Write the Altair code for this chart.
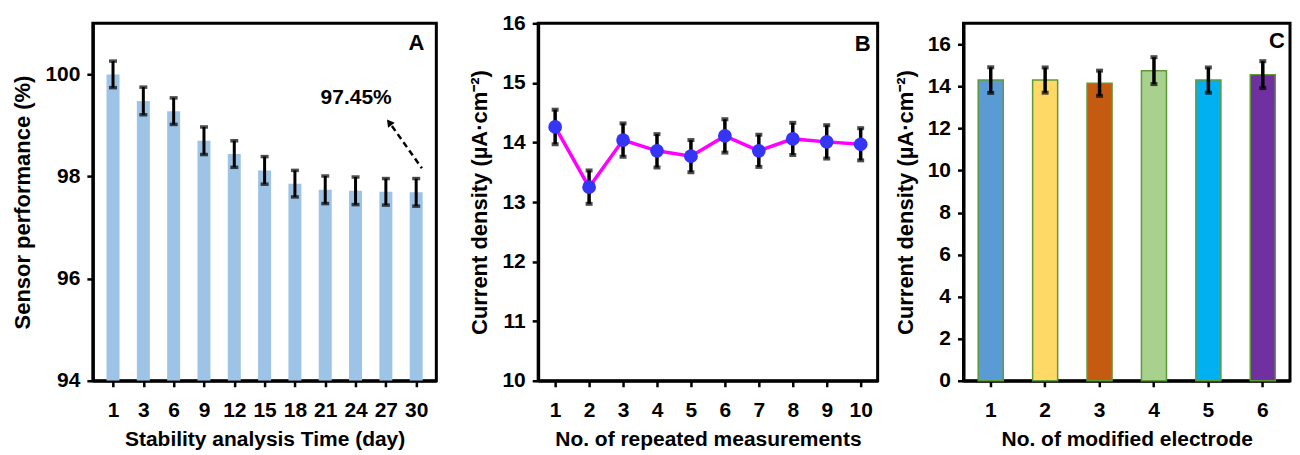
import altair as alt
import pandas as pd

# ---------- data ----------
days = [1, 3, 6, 9, 12, 15, 18, 21, 24, 27, 30]
perf = [100.0, 99.48, 99.28, 98.70, 98.44, 98.12, 97.86, 97.74, 97.72, 97.70, 97.69]
perf_err = [0.26, 0.27, 0.26, 0.27, 0.26, 0.27, 0.26, 0.27, 0.27, 0.26, 0.27]

reps = [1, 2, 3, 4, 5, 6, 7, 8, 9, 10]
rep_cd = [14.26, 13.25, 14.04, 13.86, 13.77, 14.11, 13.86, 14.06, 14.01, 13.97]
rep_err = [0.29, 0.28, 0.28, 0.28, 0.27, 0.28, 0.27, 0.27, 0.28, 0.27]

electrodes = ["1", "2", "3", "4", "5", "6"]
elec_cd = [14.30, 14.30, 14.15, 14.75, 14.30, 14.56]
elec_err = [0.61, 0.60, 0.60, 0.64, 0.60, 0.64]
elec_colors = ["#5B9BD5", "#FFD966", "#C55A11", "#A9D18E", "#00B0F0", "#7030A0"]

annot_text = "97.45%"
# annotation anchor points (data units of panel A: bar index, %)
arrow_x = [10.19, 9.20]
arrow_y = [98.16, 98.99]
head_x, head_y = 9.11, 99.06
text_x, text_y = 8.02, 99.53

FONT = "Liberation Sans"
LBL = 21

# ---------- panel A ----------
dfa = pd.DataFrame({"idx": list(range(len(days))), "day": days, "perf": perf, "err": perf_err})
dfa["lo"] = dfa["perf"] - dfa["err"]
dfa["hi"] = dfa["perf"] + dfa["err"]
label_expr = "[" + ",".join(f"'{d}'" for d in days) + "][datum.value]"

xa_scale = alt.Scale(domain=[-0.5, len(days) - 0.5], nice=False, zero=False)
xa_axis = alt.Axis(values=list(range(len(days))), labelExpr=label_expr, labelOverlap=False,
                   title="Stability analysis Time (day)")
ya_scale = alt.Scale(domain=[94, 101], nice=False, zero=False)
ya_axis = alt.Axis(values=[94, 96, 98, 100], format="d", labelOverlap=False, title="Sensor performance (%)")


def XA(f):
    return alt.X(f, scale=xa_scale, axis=xa_axis)


def YA(f):
    return alt.Y(f, scale=ya_scale, axis=ya_axis)


bars_a = alt.Chart(dfa).mark_bar(size=13, color="#9DC3E6", clip=True).encode(
    x=XA("idx:Q"), y=YA("perf:Q"), y2=alt.datum(94))
rule_a = alt.Chart(dfa).mark_rule(color="black", strokeWidth=3).encode(x=XA("idx:Q"), y=YA("lo:Q"), y2="hi:Q")
capl_a = alt.Chart(dfa).mark_tick(color="black", thickness=3.5, size=8, orient="horizontal").encode(
    x=XA("idx:Q"), y=YA("lo:Q"))
caph_a = alt.Chart(dfa).mark_tick(color="black", thickness=3.5, size=8, orient="horizontal").encode(
    x=XA("idx:Q"), y=YA("hi:Q"))

arrow_df = pd.DataFrame({"x": arrow_x, "y": arrow_y})
arrow = alt.Chart(arrow_df).mark_line(color="black", strokeWidth=2.5, strokeDash=[6, 4]).encode(
    x=XA("x:Q"), y=YA("y:Q"))
head = alt.Chart(pd.DataFrame({"x": [head_x], "y": [head_y]})).mark_point(
    shape="triangle-up", filled=True, color="black", opacity=1, size=70, angle=323).encode(
    x=XA("x:Q"), y=YA("y:Q"))
atext = alt.Chart(pd.DataFrame({"x": [text_x], "y": [text_y], "t": [annot_text]})).mark_text(
    font=FONT, fontSize=21, fontWeight="bold", color="black").encode(x=XA("x:Q"), y=YA("y:Q"), text="t:N")
letter_a = alt.Chart(pd.DataFrame({"t": ["A"]})).mark_text(
    font=FONT, fontSize=22, fontWeight="bold", color="black").encode(
    x=alt.value(324), y=alt.value(20), text="t:N")

panel_a = alt.layer(bars_a, rule_a, capl_a, caph_a, arrow, head, atext, letter_a).properties(width=344, height=358)

# ---------- panel B ----------
dfb = pd.DataFrame({"n": reps, "cd": rep_cd, "err": rep_err})
dfb["lo"] = dfb["cd"] - dfb["err"]
dfb["hi"] = dfb["cd"] + dfb["err"]
xb_scale = alt.Scale(domain=[0.5, 10.5], nice=False, zero=False)
xb_axis = alt.Axis(values=reps, title="No. of repeated measurements", format="d", labelOverlap=False)
yb_scale = alt.Scale(domain=[10, 16], nice=False, zero=False)
yb_axis = alt.Axis(values=[10, 11, 12, 13, 14, 15, 16], format="d", labelOverlap=False,
                   title="Current density (µA·cm⁻²)")


def XB(f):
    return alt.X(f, scale=xb_scale, axis=xb_axis)


def YB(f):
    return alt.Y(f, scale=yb_scale, axis=yb_axis)


rule_b = alt.Chart(dfb).mark_rule(color="black", strokeWidth=3.5).encode(x=XB("n:Q"), y=YB("lo:Q"), y2="hi:Q")
capl_b = alt.Chart(dfb).mark_tick(color="black", thickness=4, size=7, orient="horizontal").encode(
    x=XB("n:Q"), y=YB("lo:Q"))
caph_b = alt.Chart(dfb).mark_tick(color="black", thickness=4, size=7, orient="horizontal").encode(
    x=XB("n:Q"), y=YB("hi:Q"))
line_b = alt.Chart(dfb).mark_line(color="#FF00FF", strokeWidth=3.5).encode(x=XB("n:Q"), y=YB("cd:Q"))
pts_b = alt.Chart(dfb).mark_circle(color="#3535F5", opacity=1, size=190).encode(x=XB("n:Q"), y=YB("cd:Q"))
letter_b = alt.Chart(pd.DataFrame({"t": ["B"]})).mark_text(
    font=FONT, fontSize=22, fontWeight="bold", color="black").encode(
    x=alt.value(325), y=alt.value(21), text="t:N")

panel_b = alt.layer(line_b, rule_b, capl_b, caph_b, pts_b, letter_b).properties(width=340, height=358)

# ---------- panel C ----------
dfc = pd.DataFrame({"e": electrodes, "cd": elec_cd, "err": elec_err})
dfc["lo"] = dfc["cd"] - dfc["err"]
dfc["hi"] = dfc["cd"] + dfc["err"]
xc_scale = alt.Scale(paddingInner=0.54, paddingOuter=0.27)
xc_axis = alt.Axis(labelAngle=0, title="No. of modified electrode")
yc_scale = alt.Scale(domain=[0, 17], nice=False)
yc_axis = alt.Axis(values=list(range(0, 17, 2)), format="d", labelOverlap=False,
                   title="Current density (µA·cm⁻²)")


def XC(f):
    return alt.X(f, sort=electrodes, scale=xc_scale, axis=xc_axis)


def YC(f):
    return alt.Y(f, scale=yc_scale, axis=yc_axis)


bars_c = alt.Chart(dfc).mark_bar(stroke="#5E9A3A", strokeWidth=1.5).encode(
    x=XC("e:N"), y=YC("cd:Q"),
    color=alt.Color("e:N", scale=alt.Scale(domain=electrodes, range=elec_colors), legend=None),
)
rule_c = alt.Chart(dfc).mark_rule(color="black", strokeWidth=3.5).encode(x=XC("e:N"), y=YC("lo:Q"), y2="hi:Q")
capl_c = alt.Chart(dfc).mark_tick(color="black", thickness=4, size=7, orient="horizontal").encode(
    x=XC("e:N"), y=YC("lo:Q"))
caph_c = alt.Chart(dfc).mark_tick(color="black", thickness=4, size=7, orient="horizontal").encode(
    x=XC("e:N"), y=YC("hi:Q"))
letter_c = alt.Chart(pd.DataFrame({"t": ["C"]})).mark_text(
    font=FONT, fontSize=22, fontWeight="bold", color="black").encode(
    x=alt.value(314), y=alt.value(18), text="t:N")

panel_c = alt.layer(bars_c, rule_c, capl_c, caph_c, letter_c).properties(width=327, height=358)

chart = alt.hconcat(panel_a, alt.hconcat(panel_b, panel_c, spacing=13), spacing=29).properties(
    padding={"top": 2, "left": 2, "right": 0, "bottom": 0}
).configure_view(
    stroke="black", strokeWidth=3
).configure_axis(
    grid=False, domainColor="black", domainWidth=3, tickColor="black", tickWidth=2.5, tickSize=6,
    labelFont=FONT, labelFontSize=LBL, labelFontWeight="bold", labelColor="black", labelPadding=10,
    labelOverlap=False,
    titleFont=FONT, titleFontSize=21, titleFontWeight="bold", titleColor="black", titlePadding=10,
).configure_axisY(labelPadding=7, titlePadding=10, titleFontSize=22).configure_axisX(labelPadding=13, titlePadding=8)

chart.save("out.html", embed_options={"renderer": "svg", "actions": False})
